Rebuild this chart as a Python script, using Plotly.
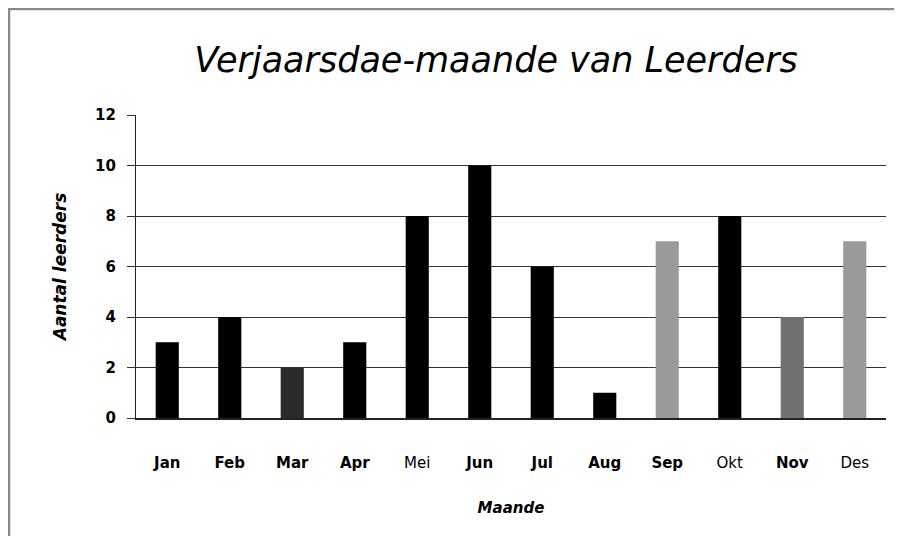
import plotly.graph_objects as go

months = ["Jan", "Feb", "Mar", "Apr", "Mei", "Jun", "Jul", "Aug", "Sep", "Okt", "Nov", "Des"]
counts = [3, 4, 2, 3, 8, 10, 6, 1, 7, 8, 4, 7]
bar_colors = ["#000000", "#000000", "#2b2b2b", "#000000", "#000000", "#000000",
              "#000000", "#000000", "#9a9a9a", "#000000", "#707070", "#9a9a9a"]
bold_labels = [True, True, True, True, False, True, True, True, True, False, True, False]
tick_text = [f"<b>{m}</b>" if b else m for m, b in zip(months, bold_labels)]
y_ticks = [0, 2, 4, 6, 8, 10, 12]
y_tick_text = [f"<b>{v}</b>" for v in y_ticks]

FONT = "DejaVu Sans"

fig = go.Figure(go.Bar(x=months, y=counts, marker=dict(color=bar_colors, line=dict(width=0))))

# page body has an 8px margin on every side; keep the figure inside the window
OFF = 8
W, H = 902 - 2 * OFF, 548 - 2 * OFF - 4
L, T = 136 - OFF, 115 - OFF
R = W - (886 - OFF)
B = H - (418 - OFF)
pw, ph = W - L - R, H - T - B

def px_x(p):
    return (p - OFF - L) / pw

def px_y(p):
    return (H - B - (p - OFF)) / ph

border = "#8a8a8a"
fig.update_layout(
    width=W, height=H,
    margin=dict(l=L, r=R, t=T, b=B),
    paper_bgcolor="white", plot_bgcolor="white",
    bargap=0.63,
    showlegend=False,
    font=dict(family=FONT, color="black"),
    title=dict(text="<i>Verjaarsdae-maande van Leerders</i>", x=(496 - OFF) / W, xanchor="center",
               y=1 - (60 - OFF) / H, yanchor="middle", font=dict(size=35, family=FONT, color="black")),
    xaxis=dict(
        tickmode="array", tickvals=months, ticktext=tick_text,
        tickfont=dict(size=15, family=FONT), ticks="", ticklabelstandoff=30,
        showline=True, linecolor="#222", linewidth=1.5, showgrid=False,
        title=dict(text="<b><i>Maande</i></b>", font=dict(size=15, family=FONT), standoff=32),
    ),
    yaxis=dict(
        range=[0, 12], tickmode="array", tickvals=y_ticks, ticktext=y_tick_text,
        tickfont=dict(size=15, family=FONT), ticklabelstandoff=8,
        ticks="outside", ticklen=8, tickcolor="#333", tickwidth=1.2,
        showgrid=True, gridcolor="#333", gridwidth=1.2, zeroline=False,
        showline=True, linecolor="#222", linewidth=1.2,
        title=dict(text="<b><i>Aantal leerders</i></b>", font=dict(size=17, family=FONT), standoff=24),
    ),
    shapes=[
        dict(type="line", xref="paper", yref="paper", x0=px_x(9), x1=px_x(9),
             y0=px_y(H + OFF), y1=px_y(8), line=dict(color=border, width=2.5), layer="below"),
        dict(type="line", xref="paper", yref="paper", x0=px_x(8), x1=px_x(W + OFF),
             y0=px_y(9), y1=px_y(9), line=dict(color=border, width=2.5), layer="below"),
    ],
)

fig.write_html("out.html")
